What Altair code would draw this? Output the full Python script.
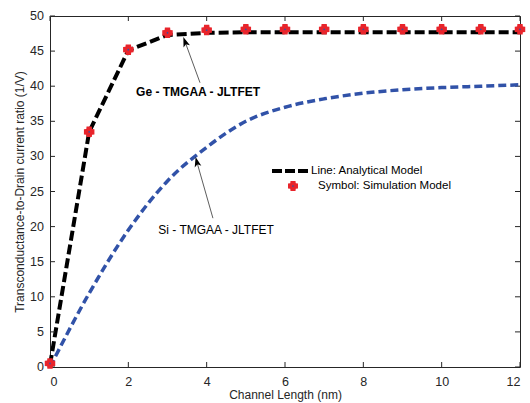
import altair as alt
import pandas as pd

# ---- data ----
x_len = [0, 1, 2, 3, 4, 5, 6, 7, 8, 9, 10, 11, 12]
ge_analytical = [0.3, 33.5, 45.1, 47.3, 47.6, 47.7, 47.7, 47.7, 47.7, 47.7, 47.7, 47.7, 47.7]
ge_simulation = [0.5, 33.5, 45.2, 47.6, 48.0, 48.1, 48.1, 48.1, 48.1, 48.1, 48.1, 48.1, 48.1]
si_analytical = [0.0, 10.5, 19.5, 26.5, 31.3, 35.0, 37.0, 38.2, 39.0, 39.5, 39.8, 40.0, 40.2]

x_ticks = [0, 2, 4, 6, 8, 10, 12]
y_ticks = [0, 5, 10, 15, 20, 25, 30, 35, 40, 45, 50]

ann_labels = ["Ge - TMGAA - JLTFET", "Si - TMGAA - JLTFET"]
ann_text_x = [3.78, 4.24]
ann_text_y = [39.2, 19.5]
arrow_tail_x = [3.83, 4.16]
arrow_tail_y = [40.5, 21.2]
arrow_tip_x = [3.45, 3.75]
arrow_tip_y = [46.3, 29.2]
arrow_angle = [340, 346]

legend_labels = ["Line: Analytical Model", "Symbol: Simulation Model"]

W, H = 470, 351
RED = "#E8242B"
BLUE = "#3152A8"
TC = "#262626"
PLUS = ("M-0.5,-1 L0.5,-1 L0.55,-0.55 L1,-0.5 L1,0.5 L0.55,0.55 "
        "L0.5,1 L-0.5,1 L-0.55,0.55 L-1,0.5 L-1,-0.5 L-0.55,-0.55 Z")
ARROW = "M0,-1 L0.65,0.9 L0,0.45 L-0.65,0.9 Z"

df = pd.DataFrame({"x": x_len, "ge_a": ge_analytical, "ge_s": ge_simulation, "si": si_analytical})
ann = pd.DataFrame({"label": ann_labels, "tx": ann_text_x, "ty": ann_text_y,
                    "ax": arrow_tail_x, "ay": arrow_tail_y, "bx": arrow_tip_x, "by": arrow_tip_y,
                    "ang": arrow_angle})

xs = alt.Scale(domain=[0, 12], nice=False)
ys = alt.Scale(domain=[0, 50], nice=False)

AXX = alt.Axis(values=x_ticks, title="Channel Length (nm)", ticks=False, domain=False, grid=False,
               labelPadding=8, titlePadding=2, labelOverlap=False)
AXY = alt.Axis(values=y_ticks, title="Transconductance-to-Drain current ratio (1/V)", ticks=False,
               domain=False, grid=False, labels=False, titlePadding=24)


def XQ(f):
    return alt.X(f, type="quantitative", scale=xs, axis=AXX)


def YQ(f):
    return alt.Y(f, type="quantitative", scale=ys, axis=AXY)


base = alt.Chart(df)

ge_line = base.mark_line(color="black", strokeWidth=4, strokeDash=[10, 4]).encode(x=XQ("x"), y=YQ("ge_a"))
si_line = base.mark_line(color=BLUE, strokeWidth=3.5, strokeDash=[8, 4], interpolate="monotone").encode(
    x=XQ("x"), y=YQ("si"))
ge_pts = base.mark_point(shape=PLUS, filled=True, color=RED, size=110, opacity=1).encode(
    x=XQ("x"), y=YQ("ge_s"))
ge_dots = base.mark_point(shape="circle", filled=True, color=BLUE, size=3, opacity=1).encode(
    x=XQ("x"), y=YQ("ge_s"))

ann_ge = alt.Chart(ann.iloc[[0]])
ann_si = alt.Chart(ann.iloc[[1]])
ann_text_ge = ann_ge.mark_text(font="Liberation Sans", fontSize=12, fontWeight="bold", color="black",
                               align="center", baseline="middle").encode(
    x=XQ("tx"), y=YQ("ty"), text="label:N")
ann_text_si = ann_si.mark_text(font="Liberation Sans", fontSize=12, color="black",
                               align="center", baseline="middle").encode(
    x=XQ("tx"), y=YQ("ty"), text="label:N")
annb = alt.Chart(ann)
ann_line = annb.mark_rule(color="#333333", strokeWidth=0.8).encode(
    x=XQ("ax"), y=YQ("ay"), x2="bx:Q", y2="by:Q")
ann_head = annb.mark_point(shape=ARROW, filled=True, color="black", size=110, opacity=1).encode(
    x=XQ("bx"), y=YQ("by"), angle=alt.Angle("ang:Q", scale=None))

# legend (positions in pixels inside plot)
leg_df = pd.DataFrame({"label": legend_labels})
leg_line = alt.Chart(leg_df.iloc[[0]]).mark_rule(color="black", strokeWidth=4, strokeDash=[10, 3]).encode(
    x=alt.value(222), x2=alt.value(258), y=alt.value(155))
leg_pt = alt.Chart(leg_df.iloc[[1]]).mark_point(shape=PLUS, filled=True, color=RED, size=100, opacity=1).encode(
    x=alt.value(243), y=alt.value(170))
leg_dot = alt.Chart(leg_df.iloc[[1]]).mark_point(shape="circle", filled=True, color=BLUE, size=3, opacity=1).encode(
    x=alt.value(243), y=alt.value(170))
leg_t1 = alt.Chart(leg_df.iloc[[0]]).mark_text(font="Liberation Sans", fontSize=11.5, align="left",
                                                baseline="middle", color="black").encode(
    x=alt.value(261), y=alt.value(155), text="label:N")
leg_t2 = alt.Chart(leg_df.iloc[[1]]).mark_text(font="Liberation Sans", fontSize=11.5, align="left",
                                                baseline="middle", color="black").encode(
    x=alt.value(268), y=alt.value(170), text="label:N")

# inward ticks on all four sides, and y tick labels
xt = alt.Chart(pd.DataFrame({"t": x_ticks}))
yt = alt.Chart(pd.DataFrame({"t": y_ticks}))
tick_b = xt.mark_rule(color=TC, strokeWidth=1).encode(x=XQ("t"), y=alt.value(H), y2=alt.value(H - 5))
tick_t = xt.mark_rule(color=TC, strokeWidth=1).encode(x=XQ("t"), y=alt.value(0), y2=alt.value(5))
tick_l = yt.mark_rule(color=TC, strokeWidth=1).encode(y=YQ("t"), x=alt.value(0), x2=alt.value(5))
tick_r = yt.mark_rule(color=TC, strokeWidth=1).encode(y=YQ("t"), x=alt.value(W), x2=alt.value(W - 5))
ylab = yt.mark_text(font="Liberation Sans", fontSize=12.5, color=TC, align="right", baseline="middle").encode(
    y=YQ("t"), x=alt.value(-6), text=alt.Text("t:Q", format="d"))

chart = alt.layer(
    ge_line, tick_b, tick_t, tick_l, tick_r, ylab,
    si_line, ge_pts, ge_dots,
    ann_line, ann_head, ann_text_ge, ann_text_si,
    leg_line, leg_pt, leg_dot, leg_t1, leg_t2,
).properties(
    width=W, height=H,
    autosize=alt.AutoSizeParams(type="none"),
    padding={"left": 50, "top": 16, "right": 10, "bottom": 36},
    background="white",
).configure_view(
    stroke=TC, strokeWidth=1
).configure_axis(
    labelFont="Liberation Sans", labelFontSize=12.5, labelColor=TC,
    titleFont="Liberation Sans", titleFontSize=12, titleColor=TC, titleFontWeight="normal",
)

chart.save("out.html", embed_options={"renderer": "svg", "actions": False})
